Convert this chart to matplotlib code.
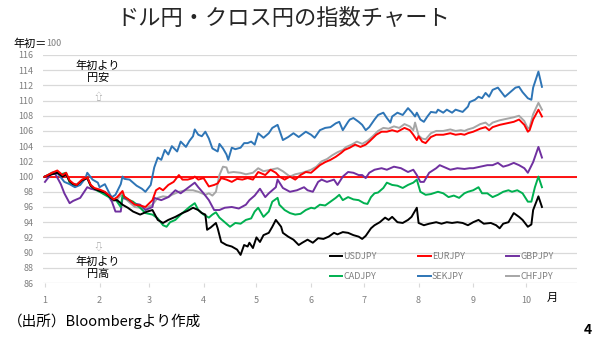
import matplotlib
matplotlib.use("Agg")
import matplotlib.pyplot as plt

plt.rcParams['font.family'] = ['Noto Sans CJK JP', 'DejaVu Sans']

# day of year (Jan 1 = 0) and index level (start of year = 100)
usd_days = [0, 4, 7, 10, 12, 14, 16, 18, 21, 24, 26, 28, 31, 34, 37, 39, 41, 44, 47, 50,
            54, 57, 58, 61, 64, 67, 70, 74, 78, 81, 84, 87, 89, 91, 92, 94, 97, 98, 100, 103,
            106, 109, 111, 113, 115, 116, 118, 120, 122, 124, 127, 129, 131, 134, 135, 138, 141, 144, 146, 149,
            152, 155, 158, 161, 164, 166, 169, 172, 175, 178, 180, 182, 185, 187, 190, 193, 195, 197, 200, 203,
            206, 208, 211, 212, 215, 218, 222, 225, 228, 231, 234, 237, 240, 243, 246, 249, 253, 256, 258, 260,
            263, 266, 269, 271, 274, 276, 277, 280, 282]
usd_vals = [100.0, 100.3, 100.5, 100.0, 100.3, 99.4, 99.0, 98.9, 99.5, 99.8, 98.8, 98.4, 98.1, 97.9, 97.3, 96.9, 96.9, 96.3, 95.9, 95.4,
            95.0, 95.3, 95.4, 95.6, 94.3, 93.9, 94.3, 94.7, 95.2, 95.5, 95.9, 95.6, 95.2, 95.0, 93.0, 93.3, 93.9, 93.2, 91.4, 91.0,
            90.8, 90.4, 89.7, 91.0, 90.8, 91.3, 90.6, 92.0, 91.4, 92.3, 92.6, 93.4, 94.3, 93.4, 92.6, 92.1, 91.7, 91.0, 91.3, 91.7,
            91.3, 91.9, 91.8, 92.1, 92.6, 92.4, 92.7, 92.6, 92.3, 92.1, 91.8, 92.2, 93.2, 93.6, 94.0, 94.6, 94.3, 94.7, 94.0, 93.9,
            94.3, 94.7, 95.9, 93.9, 93.6, 93.8, 94.0, 93.8, 94.0, 93.9, 94.0, 93.9, 93.6, 94.0, 94.3, 93.8, 93.9, 93.6, 93.2, 93.8,
            94.0, 95.2, 94.7, 94.3, 93.4, 93.7, 95.6, 97.4, 96.0]

eur_days = [0, 4, 7, 10, 12, 14, 16, 18, 21, 24, 26, 28, 31, 34, 37, 39, 41, 44, 45, 48,
            51, 54, 57, 61, 63, 65, 67, 70, 73, 76, 78, 81, 84, 85, 87, 90, 93, 96, 98, 100,
            103, 106, 109, 112, 115, 118, 121, 125, 128, 131, 133, 136, 139, 142, 145, 148, 151, 153, 156, 159,
            162, 165, 168, 170, 173, 176, 179, 182, 184, 188, 191, 194, 197, 200, 204, 207, 209, 211, 212, 214,
            216, 219, 222, 226, 230, 233, 236, 238, 240, 243, 247, 250, 252, 254, 258, 262, 266, 269, 272, 274,
            275, 277, 280, 282]
eur_vals = [100.0, 100.5, 100.8, 100.2, 100.5, 99.5, 99.1, 98.9, 99.6, 99.9, 98.9, 98.5, 98.3, 98.0, 97.4, 97.0, 97.3, 98.1, 97.4, 96.9,
            96.3, 96.2, 96.0, 96.9, 98.2, 98.5, 98.2, 98.9, 99.3, 100.2, 99.6, 99.6, 99.8, 100.0, 99.6, 99.8, 98.7, 98.9, 99.1, 99.8,
            99.6, 99.3, 99.7, 99.6, 99.8, 99.6, 100.6, 100.2, 100.9, 100.5, 100.0, 99.6, 100.0, 99.6, 100.2, 100.6, 100.5, 100.9, 101.5, 101.9,
            102.2, 102.6, 103.1, 103.5, 103.8, 104.2, 103.9, 104.2, 104.6, 105.5, 105.9, 105.9, 106.1, 105.9, 106.4, 106.1, 105.5, 104.8, 105.3, 104.6,
            104.4, 105.2, 105.5, 105.5, 105.7, 105.5, 105.6, 105.5, 105.7, 105.9, 106.3, 106.5, 106.1, 106.5, 106.8, 107.0, 107.2, 107.5, 106.8, 105.9,
            106.1, 107.5, 108.8, 107.9]

gbp_days = [0, 4, 6, 9, 11, 14, 16, 20, 24, 26, 30, 33, 35, 38, 40, 43, 44, 47, 50, 54,
            57, 61, 62, 66, 70, 74, 77, 81, 85, 87, 90, 93, 96, 99, 102, 106, 110, 114, 116, 119,
            122, 125, 127, 131, 132, 135, 139, 143, 147, 149, 152, 155, 157, 160, 164, 166, 169, 172, 175, 178,
            180, 182, 184, 187, 191, 194, 198, 202, 206, 209, 211, 213, 215, 218, 222, 224, 227, 230, 234, 238,
            241, 243, 247, 251, 254, 257, 260, 263, 266, 269, 272, 274, 277, 280, 282]
gbp_vals = [99.3, 100.5, 100.3, 99.0, 97.8, 96.5, 96.8, 97.2, 98.6, 98.4, 98.2, 98.0, 97.8, 96.7, 95.4, 95.4, 97.2, 97.0, 96.5, 96.3,
            95.6, 96.0, 97.2, 96.9, 97.3, 98.2, 97.8, 98.5, 99.2, 98.6, 97.8, 96.9, 95.6, 95.6, 95.9, 96.0, 95.8, 96.3, 96.9, 97.5,
            98.4, 97.3, 97.8, 98.6, 99.6, 98.5, 98.0, 98.2, 98.6, 98.2, 98.0, 99.3, 99.6, 99.3, 99.6, 98.9, 100.0, 100.6, 100.5, 100.2,
            100.2, 99.8, 100.5, 100.9, 101.1, 100.9, 101.3, 101.1, 100.6, 100.9, 100.2, 99.3, 99.3, 100.5, 101.1, 101.5, 101.2, 100.9, 101.1, 101.0,
            101.1, 101.1, 101.3, 101.5, 101.5, 101.8, 101.3, 101.5, 101.8, 101.5, 101.1, 100.5, 101.9, 103.9, 102.5]

cad_days = [0, 4, 6, 9, 12, 14, 16, 18, 21, 24, 26, 28, 31, 34, 37, 40, 43, 44, 47, 50,
            54, 57, 61, 64, 67, 69, 71, 74, 77, 80, 82, 85, 87, 90, 93, 95, 97, 99, 102, 105,
            108, 111, 114, 117, 119, 121, 124, 127, 129, 132, 133, 136, 139, 142, 145, 148, 151, 153, 156, 159,
            162, 165, 167, 169, 172, 175, 178, 181, 183, 185, 187, 189, 192, 194, 197, 200, 203, 206, 209, 211,
            213, 216, 219, 223, 226, 229, 232, 235, 238, 240, 243, 246, 248, 251, 254, 257, 260, 263, 265, 268,
            271, 274, 276, 278, 280, 282]
cad_vals = [100.0, 100.5, 100.6, 100.3, 100.5, 99.2, 98.8, 98.9, 99.5, 99.9, 98.8, 98.4, 98.0, 97.6, 97.2, 97.0, 96.0, 97.5, 97.0, 96.7,
            95.9, 95.2, 95.0, 94.5, 93.6, 93.4, 94.0, 94.3, 95.0, 95.6, 96.0, 96.5, 95.6, 95.0, 94.6, 95.0, 95.3, 94.6, 94.0, 93.4,
            93.9, 93.8, 94.3, 94.5, 95.4, 95.9, 94.7, 95.4, 96.7, 97.2, 96.3, 95.6, 95.2, 95.0, 95.1, 95.6, 95.9, 95.8, 96.3, 96.2,
            96.7, 97.2, 97.6, 96.9, 97.3, 97.0, 96.9, 96.5, 96.4, 97.3, 97.8, 97.9, 98.5, 99.2, 98.9, 98.8, 98.5, 98.9, 99.2, 99.6,
            98.0, 97.6, 97.7, 98.0, 97.8, 97.3, 97.5, 97.2, 97.8, 98.0, 98.2, 98.6, 97.8, 97.8, 97.3, 97.6, 98.0, 98.2, 98.0, 98.2,
            97.8, 96.7, 96.7, 98.6, 100.0, 98.6]

sek_days = [0, 4, 7, 11, 14, 17, 20, 23, 24, 27, 30, 31, 34, 37, 38, 40, 43, 44, 45, 48,
            52, 55, 57, 60, 62, 64, 66, 68, 70, 72, 75, 77, 80, 82, 84, 85, 87, 89, 91, 93,
            95, 98, 99, 101, 103, 104, 106, 108, 111, 113, 115, 117, 119, 121, 124, 127, 129, 132, 135, 138,
            141, 144, 148, 151, 153, 156, 159, 162, 165, 167, 169, 172, 173, 175, 178, 180, 182, 184, 187, 189,
            192, 194, 196, 197, 200, 203, 206, 208, 210, 211, 213, 215, 217, 219, 222, 223, 226, 228, 231, 233,
            237, 240, 241, 244, 246, 248, 250, 252, 254, 257, 259, 261, 264, 267, 269, 271, 274, 276, 277, 280,
            282]
sek_vals = [100.0, 100.4, 100.5, 99.3, 99.0, 98.6, 98.9, 99.8, 100.5, 99.6, 99.2, 98.6, 99.0, 97.6, 97.3, 97.6, 99.0, 100.0, 99.7, 99.6,
            98.8, 98.4, 98.0, 98.9, 101.2, 102.5, 102.2, 103.5, 102.9, 104.0, 103.3, 104.6, 103.9, 104.7, 105.3, 106.2, 105.5, 105.3, 105.9, 105.0,
            103.7, 103.3, 104.3, 103.7, 102.9, 102.2, 103.8, 103.6, 103.8, 104.4, 104.4, 104.6, 104.2, 105.7, 105.1, 105.7, 106.4, 106.8, 104.8, 105.2,
            105.7, 105.2, 105.9, 105.5, 105.1, 106.1, 106.4, 106.5, 107.0, 107.2, 106.1, 107.2, 107.5, 107.7, 107.2, 106.8, 106.1, 106.5, 107.5, 108.1,
            108.4, 107.7, 107.1, 107.9, 108.4, 108.1, 109.0, 108.5, 107.9, 108.4, 107.5, 107.2, 107.9, 108.5, 108.4, 108.8, 108.4, 108.8, 108.4, 108.8,
            108.5, 109.2, 109.8, 110.1, 110.5, 110.3, 111.0, 110.5, 111.4, 111.7, 111.1, 110.5, 111.1, 111.7, 111.8, 111.1, 110.3, 110.1, 111.7, 113.8,
            111.8]

chf_days = [0, 4, 7, 10, 12, 14, 16, 18, 21, 24, 26, 28, 31, 34, 37, 39, 41, 44, 45, 48,
            51, 54, 57, 61, 64, 67, 70, 72, 76, 80, 84, 87, 91, 93, 95, 97, 99, 101, 103, 104,
            107, 111, 114, 118, 121, 124, 128, 132, 135, 139, 142, 146, 151, 154, 157, 160, 163, 166, 169, 171,
            174, 177, 180, 183, 186, 189, 192, 195, 198, 201, 204, 207, 209, 210, 212, 214, 216, 219, 222, 226,
            230, 233, 236, 238, 240, 243, 247, 250, 252, 254, 258, 262, 266, 269, 272, 274, 275, 277, 280, 282]
chf_vals = [100.0, 100.4, 100.6, 100.1, 100.3, 99.4, 99.0, 98.8, 99.4, 99.8, 98.7, 98.3, 98.0, 97.8, 97.2, 96.8, 97.0, 97.8, 97.2, 96.6,
            96.0, 95.9, 95.8, 96.3, 97.2, 97.4, 97.3, 97.6, 98.0, 98.2, 98.2, 98.0, 97.6, 97.8, 97.5, 98.0, 100.2, 101.3, 101.2, 100.5,
            100.6, 100.5, 100.3, 100.5, 101.1, 100.7, 100.9, 101.1, 100.7, 100.0, 100.3, 100.5, 100.9, 101.3, 102.0, 102.3, 102.8, 103.2, 103.5, 103.9,
            104.2, 104.6, 104.3, 104.7, 105.3, 106.0, 106.4, 106.3, 106.6, 106.4, 106.9, 106.6, 106.1, 107.1, 105.4, 105.0, 104.9, 105.7, 106.0, 106.0,
            106.2, 106.0, 106.1, 106.0, 106.2, 106.4, 106.9, 107.1, 106.7, 107.1, 107.4, 107.6, 107.8, 108.0, 107.3, 106.3, 106.5, 108.2, 109.7, 108.8]

month_starts = [0, 31, 59, 90, 120, 151, 181, 212, 243, 273]
month_labels = ['1', '2', '3', '4', '5', '6', '7', '8', '9', '10']

fig = plt.figure(figsize=(6, 3.41), dpi=100)
ax = fig.add_axes([0.072, 0.170, 0.890, 0.669])

ax.axhline(100, color='#ff0000', lw=1.3, zorder=2)

series = [
    ('USDJPY', usd_days, usd_vals, '#000000'),
    ('CADJPY', cad_days, cad_vals, '#00b050'),
    ('EURJPY', eur_days, eur_vals, '#ff0000'),
    ('SEKJPY', sek_days, sek_vals, '#2e75b6'),
    ('GBPJPY', gbp_days, gbp_vals, '#7030a0'),
    ('CHFJPY', chf_days, chf_vals, '#a6a6a6'),
]
draw_order = ['CHFJPY', 'GBPJPY', 'CADJPY', 'SEKJPY', 'USDJPY', 'EURJPY']
for name, d, v, c in series:
    ax.plot(d, v, color=c, lw=1.4, label=name, zorder=3 + draw_order.index(name))

ax.set_xlim(-1, 302)
ax.set_ylim(86, 116)
ax.set_yticks(range(86, 117, 2))
ax.set_xticks(month_starts)
ax.set_xticklabels(month_labels)
ax.grid(axis='y', color='#d9d9d9', lw=0.9)
ax.set_axisbelow(True)
for s in ax.spines.values():
    s.set_visible(False)
ax.tick_params(axis='y', length=0, pad=7, labelsize=6.5, labelcolor='#7f7f7f')
ax.tick_params(axis='x', length=3, color='#d9d9d9', pad=6, labelsize=6.5, labelcolor='#7f7f7f')

leg = ax.legend(ncol=3, loc='upper left', bbox_to_anchor=(0.530, 0.153),
                frameon=False, fontsize=6.5, handlelength=1.4, handletextpad=0.1,
                columnspacing=4.6, labelspacing=1.25, borderaxespad=0)
for t in leg.get_texts():
    t.set_color('#7f7f7f')

# notes on the direction of the yen
ax.text(30, 113.8, '年初より\n円安', ha='center', va='center', fontsize=8, linespacing=1.25)
ax.text(30, 110.5, '⇧', ha='center', va='center', fontsize=7, color='#a6a6a6')
ax.text(30, 90.7, '⇩', ha='center', va='center', fontsize=7, color='#a6a6a6')
ax.text(30, 88.0, '年初より\n円高', ha='center', va='center', fontsize=8, linespacing=1.25)

fig.text(0.472, 0.947, 'ドル円・クロス円の指数チャート', ha='center', va='center',
         fontsize=16, color='#262626')
fig.text(0.022, 0.871, '年初＝', ha='left', va='center', fontsize=8)
fig.text(0.077, 0.871, '100', ha='left', va='center', fontsize=6.5, color='#7f7f7f')
fig.text(0.920, 0.126, '月', ha='center', va='center', fontsize=8)
fig.text(0.013, 0.059, '（出所）Bloombergより作成', ha='left', va='center', fontsize=10.5)
fig.text(0.980, 0.032, '4', ha='center', va='center', fontsize=10, fontweight='bold')

fig.savefig('out.png', dpi=100)
